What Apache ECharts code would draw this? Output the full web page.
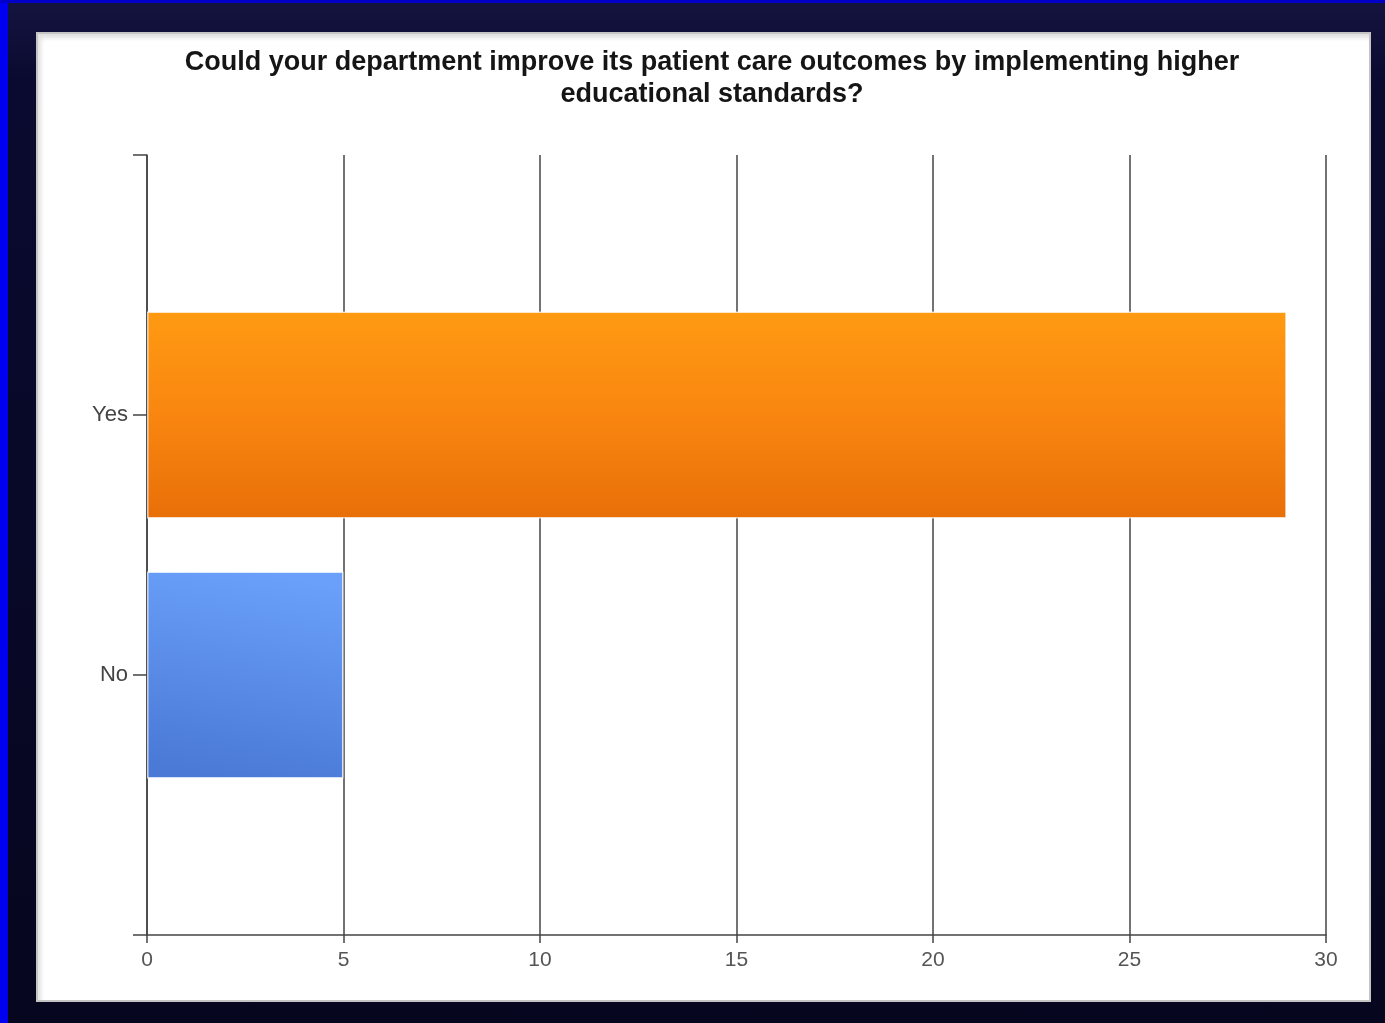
<!DOCTYPE html>
<html>
<head>
<meta charset="utf-8">
<script src="https://cdn.jsdelivr.net/npm/echarts@6/dist/echarts.min.js"></script>
<style>
  html, body { margin: 0; padding: 0; width: 1385px; height: 1023px; overflow: hidden; }
  body { background: linear-gradient(180deg, #141440 0%, #0a0a30 8%, #06061f 100%); position: relative; }
  #blueL { position: absolute; left: 0; top: 0; width: 8px; height: 1023px; background: #0000f0; }
  #blueT { position: absolute; left: 0; top: 0; width: 1385px; height: 3px; background: #0000c8; }
  #panel { position: absolute; left: 36px; top: 32px; width: 1331px; height: 966px; background: #ffffff;
           border: 2px solid #c4c4c4; box-shadow: inset 3px 4px 4px rgba(0,0,0,0.12); }
  #chart { position: absolute; left: 0; top: 0; width: 1385px; height: 1023px; }
</style>
</head>
<body>
<div id="blueL"></div>
<div id="blueT"></div>
<div id="panel"></div>
<div id="chart"></div>
<script>
const titleText = 'Could your department improve its patient care outcomes by implementing higher\neducational standards?';
const categories = ['Yes', 'No'];
const values = [29, 5];
const xTicks = [0, 5, 10, 15, 20, 25, 30];

const barColors = [
  new echarts.graphic.LinearGradient(0, 1, 0, 0, [
    { offset: 0, color: '#e86f08' },
    { offset: 0.5, color: '#f98610' },
    { offset: 1, color: '#ff9a12' }
  ]),
  new echarts.graphic.LinearGradient(0.4, 1, 0.6, 0, [
    { offset: 0, color: '#4a79d6' },
    { offset: 1, color: '#6aa0fa' }
  ])
];

// padded category axis: empty slot at top and bottom (edge ticks)
const yData = [''].concat(categories, ['']);
const seriesData = ['-'].concat(values.map((v, i) => ({
  value: v,
  itemStyle: { color: barColors[i], borderColor: 'rgba(255,255,255,0.7)', borderWidth: 1.5 }
})), ['-']);

const chart = echarts.init(document.getElementById('chart'), null, { renderer: 'canvas' });
chart.setOption({
  backgroundColor: 'transparent',
  animation: false,
  title: {
    text: titleText,
    left: 707,
    textAlign: 'center',
    top: 42,
    textStyle: { fontFamily: 'Liberation Sans, Arial, sans-serif', fontWeight: 'bold', fontSize: 27, color: '#151515', lineHeight: 32 }
  },
  grid: { left: 147, right: 59, top: 155, bottom: 88, containLabel: false },
  xAxis: {
    type: 'value',
    min: xTicks[0],
    max: xTicks[xTicks.length - 1],
    interval: 5,
    axisLine: { show: true, lineStyle: { color: '#444', width: 1.5 } },
    axisTick: { show: true, length: 8, lineStyle: { color: '#444', width: 1.5 } },
    axisLabel: { margin: 15, fontSize: 21, color: '#555', fontFamily: 'Liberation Sans, Arial, sans-serif' },
    splitLine: { show: true, lineStyle: { color: '#444', width: 1.5 } }
  },
  yAxis: {
    type: 'category',
    data: yData,
    inverse: true,
    boundaryGap: false,
    axisLine: { show: true, lineStyle: { color: '#444', width: 1.5 } },
    axisTick: { show: true, length: 14, interval: 0, lineStyle: { color: '#444', width: 1.5 } },
    axisLabel: { interval: 0, margin: 19, fontSize: 22, color: '#444', fontFamily: 'Liberation Sans, Arial, sans-serif' },
    splitLine: { show: false }
  },
  series: [{
    type: 'bar',
    data: seriesData,
    barWidth: 207
  }]
});
</script>
</body>
</html>
